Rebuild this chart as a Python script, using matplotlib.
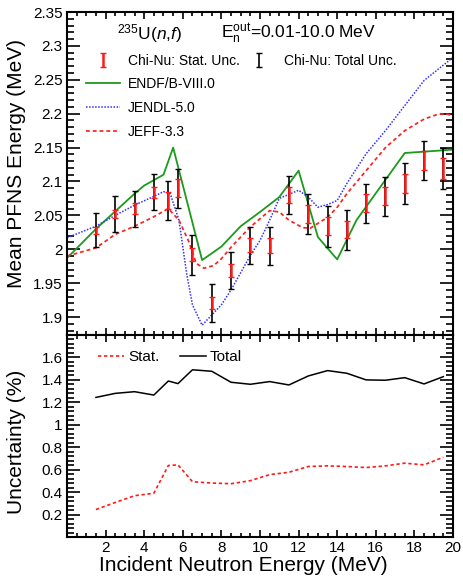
import matplotlib
matplotlib.use('Agg')
import matplotlib.pyplot as plt
import numpy as np
from matplotlib import rcParams
from matplotlib.ticker import MultipleLocator, FuncFormatter

rcParams['font.family'] = 'Liberation Sans'
rcParams['mathtext.fontset'] = 'custom'
rcParams['mathtext.rm'] = 'Liberation Sans'
rcParams['mathtext.it'] = 'Liberation Sans:italic'

### Chi-Nu mean energies ###
E_exp = [1.5, 2.5, 3.5, 4.5, 5.25, 5.75, 6.5, 7.5, 8.5, 9.5, 10.5, 11.5, 12.5,
         13.5, 14.5, 15.5, 16.5, 17.5, 18.5, 19.5]
mean_exp = [2.028, 2.052, 2.060, 2.084, 2.072, 2.090, 1.992, 1.921, 1.969, 2.006,
            2.005, 2.080, 2.052, 2.034, 2.029, 2.068, 2.078, 2.097, 2.131, 2.119]
# uncertainties in %
stat_pct = [0.245, 0.308, 0.368, 0.390, 0.637, 0.643, 0.493, 0.481, 0.475, 0.502,
            0.556, 0.577, 0.628, 0.634, 0.628, 0.619, 0.634, 0.658, 0.643, 0.711]
tot_pct = [1.244, 1.280, 1.295, 1.265, 1.390, 1.367, 1.490, 1.477, 1.379, 1.361,
           1.385, 1.355, 1.435, 1.483, 1.459, 1.400, 1.397, 1.420, 1.364, 1.429]

### evaluations ###
E_endf = [0, 1.5, 2.5, 3.5, 4, 5, 5.5, 7, 8, 9, 10, 11, 12, 13, 14, 15, 17.5, 20]
endf = [1.987, 2.030, 2.056, 2.082, 2.094, 2.110, 2.150, 1.984, 2.004, 2.034,
        2.055, 2.077, 2.116, 2.018, 1.985, 2.043, 2.142, 2.147]

E_jendl = [0, 1.5, 2.5, 3.5, 4.5, 5.0, 5.35, 5.8, 6.2, 6.5, 7.0, 8.0, 8.5, 9.5, 10.0,
           10.5, 11.0, 12.0, 12.5, 13.0, 13.5, 14.0, 14.5, 15.5, 16.5, 17.5, 18.5, 20.0]
jendl = [2.017, 2.034, 2.050, 2.065, 2.078, 2.085, 2.082, 2.043, 1.964, 1.918, 1.888,
         1.918, 1.940, 1.991, 2.013, 2.043, 2.075, 2.087, 2.077, 2.062, 2.066, 2.072,
         2.097, 2.141, 2.175, 2.212, 2.249, 2.283]

E_jeff = [0, 1.5, 2.5, 3.5, 4.5, 5.25, 5.8, 6.3, 6.7, 7.1, 7.6, 8.0, 8.5, 9.5, 10.5,
          11.0, 11.5, 12.2, 12.6, 13.1, 13.5, 14.0, 14.5, 15.5, 16.5, 17.5, 18.5,
          19.2, 19.6, 20.0]
jeff = [1.990, 2.002, 2.022, 2.034, 2.048, 2.060, 2.043, 2.012, 1.979, 1.972, 1.976,
        1.986, 2.003, 2.033, 2.057, 2.055, 2.043, 2.032, 2.031, 2.040, 2.047, 2.062,
        2.082, 2.116, 2.150, 2.175, 2.192, 2.199, 2.200, 2.197]

mean_exp = np.array(mean_exp)
err_stat = mean_exp*np.array(stat_pct)/100.
err_tot = mean_exp*np.array(tot_pct)/100.

fig = plt.figure(figsize=(4.63, 5.78), dpi=100)
ax = fig.add_axes([0.1447, 0.4204, 0.8337, 0.5588])
ax2 = fig.add_axes([0.1447, 0.0709, 0.8337, 0.3495])

green = '#1c9a1c'
l1, = ax.plot(E_endf, endf, color=green, lw=1.3, label='ENDF/B-VIII.0')
l2, = ax.plot(E_jendl, jendl, color='#3030ff', lw=1.1, ls=(0, (1, 1)), label='JENDL-5.0')
l3, = ax.plot(E_jeff, jeff, color='#ff2020', lw=1.25, ls=(0, (2.2, 1.7)), label='JEFF-3.3')
eb_tot = ax.errorbar(E_exp, mean_exp, yerr=err_tot, fmt='none', ecolor='k', elinewidth=1.2,
                     capsize=2.5, capthick=1.0, label='Chi-Nu: Total Unc.')
eb_stat = ax.errorbar(E_exp, mean_exp, yerr=err_stat, fmt='none', ecolor='#ff1a1a', elinewidth=1.8,
                      capsize=2, capthick=1.0, label='Chi-Nu: Stat. Unc.')

ax.set_xlim(0, 20)
ax.set_ylim(1.8735, 2.35)
ax.set_ylabel('Mean PFNS Energy (MeV)', fontsize=15)
ax.yaxis.set_label_coords(-0.105, 0.53)
ax.yaxis.set_major_locator(MultipleLocator(0.05))
ax.yaxis.set_minor_locator(MultipleLocator(0.01))
ax.xaxis.set_major_locator(MultipleLocator(2))
ax.xaxis.set_minor_locator(MultipleLocator(0.5))
ax.yaxis.set_major_formatter(FuncFormatter(lambda v, p: '%g' % round(v, 3)))
ax.tick_params(axis='x', labelbottom=False)

leg1 = ax.legend(handles=[eb_stat, eb_tot], ncol=2, loc='upper left', bbox_to_anchor=(0.05, 0.87),
                 frameon=False, fontsize=10, handlelength=2.4, handletextpad=0.6,
                 columnspacing=0.2, borderpad=0, borderaxespad=0)
ax.add_artist(leg1)
ax.legend(handles=[l1, l2, l3], loc='upper left', bbox_to_anchor=(0.05, 0.80), frameon=False,
          fontsize=10, handlelength=2.4, handletextpad=0.6, labelspacing=0.72,
          borderpad=0, borderaxespad=0)

ax.text(0.129, 0.933, r'$^{235}$U($n$,$f$)', transform=ax.transAxes, fontsize=12.5, va='center')
ax.text(0.40, 0.933, r'E$_{\rm n}^{\rm out}$=0.01-10.0 MeV', transform=ax.transAxes,
        fontsize=12.5, va='center')

### uncertainty panel ###
ax2.plot(E_exp, stat_pct, color='#ff1a1a', lw=1.2, ls=(0, (2, 1.6)), label='Stat.')
ax2.plot(E_exp, tot_pct, color='k', lw=1.1, label='Total')
ax2.set_xlim(0, 20)
ax2.set_ylim(0, 1.8)
ax2.set_xlabel('Incident Neutron Energy (MeV)', fontsize=15)
ax2.xaxis.set_label_coords(0.457, -0.095)
ax2.set_ylabel('Uncertainty (%)', fontsize=15)
ax2.yaxis.set_label_coords(-0.105, 0.47)
ax2.xaxis.set_major_locator(MultipleLocator(2))
ax2.xaxis.set_minor_locator(MultipleLocator(0.5))
ax2.yaxis.set_major_locator(MultipleLocator(0.2))
ax2.yaxis.set_minor_locator(MultipleLocator(0.04))
fmt = FuncFormatter(lambda v, p: '' if (abs(v) < 1e-6 or v > 1.75) else '%g' % round(v, 3))
ax2.yaxis.set_major_formatter(fmt)
ax2.xaxis.set_major_formatter(FuncFormatter(lambda v, p: '' if abs(v) < 1e-6 else '%g' % v))
ax2.legend(loc='upper left', bbox_to_anchor=(0.08, 0.925), ncol=2, frameon=False, fontsize=11,
           handlelength=1.7, handletextpad=0.3, columnspacing=1.3, borderpad=0, borderaxespad=0)

for a in (ax, ax2):
    a.tick_params(axis='both', which='both', direction='in', top=True, right=True, labelsize=11, width=1.2)
    a.tick_params(axis='y', which='major', length=9.5, pad=3)
    a.tick_params(axis='y', which='minor', length=4.8)
    a.tick_params(axis='x', which='major', length=5, pad=3)
    a.tick_params(axis='x', which='minor', length=2.6)
    for s in a.spines.values():
        s.set_linewidth(1.5)

plt.savefig('out.png', dpi=100)
